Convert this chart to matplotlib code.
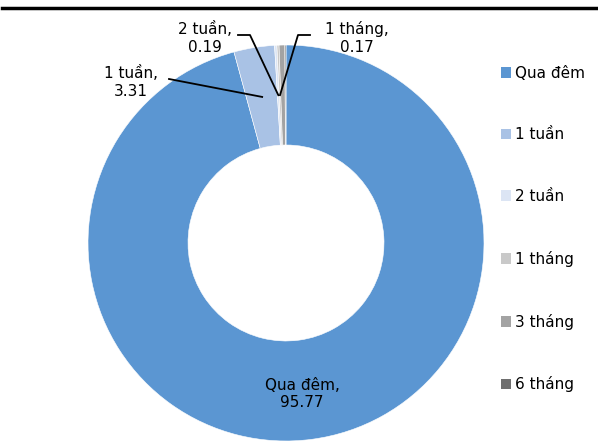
import numpy as np
import matplotlib
matplotlib.use("Agg")
import matplotlib.pyplot as plt
from matplotlib.patches import Patch
from matplotlib.lines import Line2D

# data
labels = ["Qua đêm", "1 tuần", "2 tuần", "1 tháng", "3 tháng", "6 tháng"]
values = [95.77, 3.31, 0.19, 0.17, 0.47, 0.09]
colors = ["#5B96D2", "#A9C2E5", "#DCE5F4", "#C9C9C9", "#A3A3A3", "#6F6F6F"]

W, H = 598, 445
fig = plt.figure(figsize=(W / 100, H / 100), dpi=100)
ax = fig.add_axes([0, 0, 1, 1])

cx, cy, R = 286, 202, 198
wedges, _ = ax.pie(values, colors=colors, startangle=90, counterclock=False,
                   center=(cx, cy), radius=R, frame=True,
                   wedgeprops=dict(width=100, edgecolor="white", linewidth=0.4))
ax.set_xlim(0, W)
ax.set_ylim(0, H)
ax.set_aspect("equal")
ax.axis("off")

fs = 11


def mid_point(i, r):
    # midpoint of wedge i at radius r
    w = wedges[i]
    a = np.deg2rad((w.theta1 + w.theta2) / 2)
    return cx + r * np.cos(a), cy + r * np.sin(a)


# Qua đêm label inside ring
ax.text(302, 51, f"{labels[0]},\n{values[0]}", ha="center", va="center", fontsize=fs,
        linespacing=1.2)

# 1 tuần
ax.text(131, 363, f"{labels[1]},\n{values[1]}", ha="center", va="center", fontsize=fs,
        linespacing=1.2)
ex, ey = mid_point(1, 148)
ax.plot([169, ex], [366, ey], color="black", lw=1.3)

# 2 tuần
ax.text(205, 407, f"{labels[2]},\n{values[2]}", ha="center", va="center", fontsize=fs,
        linespacing=1.25)
ex, ey = mid_point(2, 148)
ax.plot([238, 250, ex], [410, 410, ey], color="black", lw=1.3)

# 1 tháng
ax.text(357, 407, f"{labels[3]},\n{values[3]}", ha="center", va="center", fontsize=fs,
        linespacing=1.25)
ex, ey = mid_point(3, 148)
ax.plot([310, 298, ex], [410, 410, ey], color="black", lw=1.3)

# top rule
fig.add_artist(Line2D([2 / W, 1], [1 - 7.5 / H, 1 - 7.5 / H], color="black", lw=2.5))

handles = [Patch(facecolor=c, edgecolor="none") for c in colors]
fig.legend(handles, labels, loc="upper left", bbox_to_anchor=(493 / W, 1 - 58 / H),
           frameon=False, fontsize=fs, handlelength=0.7, handleheight=0.7,
           handletextpad=0.25, labelspacing=3.06, borderpad=0)

fig.savefig("out.png", dpi=100)
